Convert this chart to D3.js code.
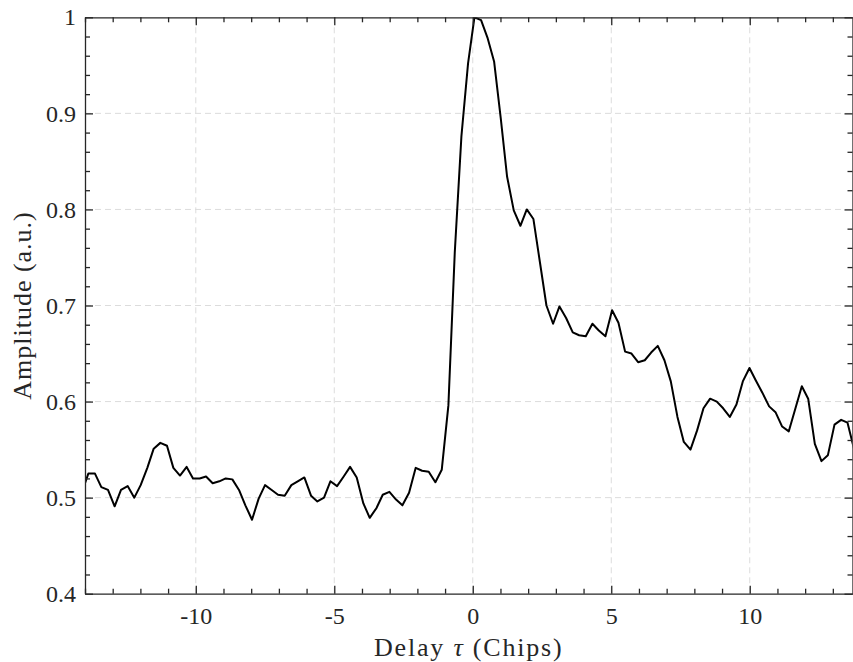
<!DOCTYPE html>
<html>
<head>
<meta charset="utf-8">
<script src="https://cdn.jsdelivr.net/npm/d3@7"></script>
<style>
    body { margin: 0; background: #fff; }
    .tick text { font-family: "Liberation Serif", serif; font-size: 24px; fill: #262626; }
    .label { font-family: "Liberation Serif", serif; font-size: 26px; fill: #262626; letter-spacing: 1px; }
</style>
</head>
<body>
<div id="chart"></div>
<script>
// delay (chips) and normalised amplitude
const delays = [
    -14.12, -13.88, -13.64, -13.41, -13.17, -12.93, -12.70, -12.46, -12.22, -11.99,
    -11.75, -11.52, -11.28, -11.04, -10.81, -10.57, -10.33, -10.10, -9.86, -9.63,
    -9.39, -9.15, -8.92, -8.68, -8.44, -8.21, -7.97, -7.73, -7.50, -7.26,
    -7.03, -6.79, -6.55, -6.32, -6.08, -5.84, -5.61, -5.37, -5.14, -4.90,
    -4.66, -4.43, -4.19, -3.95, -3.72, -3.48, -3.25, -3.01, -2.77, -2.54,
    -2.30, -2.06, -1.83, -1.59, -1.35, -1.12, -0.88, -0.65, -0.41, -0.17,
    0.06, 0.30, 0.54, 0.77, 1.01, 1.24, 1.48, 1.72, 1.95, 2.19,
    2.43, 2.66, 2.90, 3.13, 3.37, 3.61, 3.84, 4.08, 4.32, 4.55,
    4.79, 5.03, 5.26, 5.50, 5.73, 5.97, 6.21, 6.44, 6.68, 6.92,
    7.15, 7.39, 7.62, 7.86, 8.10, 8.33, 8.57, 8.81, 9.04, 9.28,
    9.52, 9.75, 9.99, 10.22, 10.46, 10.70, 10.93, 11.17, 11.41, 11.64,
    11.88, 12.11, 12.35, 12.59, 12.82, 13.06, 13.30, 13.53, 13.77
];
const amplitudes = [
    0.505, 0.525, 0.525, 0.511, 0.508, 0.491, 0.508, 0.512, 0.500, 0.513,
    0.531, 0.551, 0.557, 0.554, 0.531, 0.523, 0.532, 0.520, 0.520, 0.522,
    0.515, 0.517, 0.520, 0.519, 0.508, 0.492, 0.477, 0.499, 0.513, 0.508,
    0.503, 0.502, 0.513, 0.517, 0.521, 0.502, 0.496, 0.500, 0.517, 0.512,
    0.522, 0.532, 0.521, 0.494, 0.479, 0.489, 0.503, 0.506, 0.498, 0.492,
    0.505, 0.531, 0.528, 0.527, 0.516, 0.529, 0.596, 0.755, 0.876, 0.952,
    1.000, 0.997, 0.978, 0.954, 0.895, 0.834, 0.799, 0.783, 0.800, 0.790,
    0.744, 0.700, 0.681, 0.699, 0.687, 0.672, 0.669, 0.668, 0.681, 0.674,
    0.668, 0.695, 0.682, 0.652, 0.650, 0.641, 0.643, 0.651, 0.658, 0.643,
    0.621, 0.584, 0.558, 0.550, 0.570, 0.593, 0.603, 0.600, 0.593, 0.584,
    0.597, 0.621, 0.635, 0.622, 0.609, 0.595, 0.589, 0.574, 0.569, 0.592,
    0.616, 0.603, 0.556, 0.538, 0.544, 0.576, 0.581, 0.578, 0.550
];
const xTicks = [-10, -5, 0, 5, 10];
const xTickLabels = ["-10", "-5", "0", "5", "10"];
const yTicks = [0.4, 0.5, 0.6, 0.7, 0.8, 0.9, 1];
const yTickLabels = ["0.4", "0.5", "0.6", "0.7", "0.8", "0.9", "1"];

const margin = {top: 17.3, right: 0.5, bottom: 68.3, left: 85},
    width = 853 - margin.left - margin.right,
    height = 662 - margin.top - margin.bottom;

const axisColor = "#262626";

const svg = d3.select("#chart")
    .append("svg")
    .attr("width", 853)
    .attr("height", 662)
    .append("g")
    .attr("transform", `translate(${margin.left},${margin.top})`);

const xScale = d3.scaleLinear().domain([-14, 13.71]).range([0, width]);
const yScale = d3.scaleLinear().domain([0.4, 1]).range([height, 0]);

// grid
svg.append("g")
    .selectAll("line")
    .data(xTicks)
    .join("line")
    .attr("x1", d => xScale(d)).attr("x2", d => xScale(d))
    .attr("y1", 0).attr("y2", height)
    .attr("stroke", "#dcdcdc")
    .attr("stroke-width", 1)
    .attr("stroke-dasharray", "6,4");

svg.append("g")
    .selectAll("line")
    .data(yTicks.slice(1, -1))
    .join("line")
    .attr("x1", 0).attr("x2", width)
    .attr("y1", d => yScale(d)).attr("y2", d => yScale(d))
    .attr("stroke", "#dcdcdc")
    .attr("stroke-width", 1)
    .attr("stroke-dasharray", "6,4");

// curve
svg.append("clipPath")
    .attr("id", "clip")
    .append("rect")
    .attr("width", width)
    .attr("height", height);

const line = d3.line()
    .x((d, i) => xScale(delays[i]))
    .y(d => yScale(d));

svg.append("path")
    .datum(amplitudes)
    .attr("clip-path", "url(#clip)")
    .attr("fill", "none")
    .attr("stroke", "#000")
    .attr("stroke-width", 2)
    .attr("stroke-linejoin", "round")
    .attr("d", line);

// axes, ticks pointing inwards
const xMinor = d3.range(-14, 14, 1).filter(d => !xTicks.includes(d));
const yMinor = d3.range(0.42, 1, 0.02).filter(d => Math.abs(d * 10 - Math.round(d * 10)) > 1e-6);

function styleAxis(g) {
    g.selectAll("path, line").attr("stroke", axisColor).attr("stroke-width", 1.3);
}

svg.append("g")
    .attr("transform", `translate(0,${height})`)
    .call(d3.axisBottom(xScale).tickValues(xTicks).tickFormat((d, i) => xTickLabels[i])
        .tickSize(-8).tickSizeOuter(0).tickPadding(13))
    .call(styleAxis);
svg.append("g")
    .attr("transform", `translate(0,${height})`)
    .call(d3.axisBottom(xScale).tickValues(xMinor).tickFormat("").tickSize(-5).tickSizeOuter(0))
    .call(styleAxis)
    .select(".domain").remove();

svg.append("g")
    .call(d3.axisTop(xScale).tickValues(xTicks).tickFormat("").tickSize(-8).tickSizeOuter(0))
    .call(styleAxis);
svg.append("g")
    .call(d3.axisTop(xScale).tickValues(xMinor).tickFormat("").tickSize(-5).tickSizeOuter(0))
    .call(styleAxis)
    .select(".domain").remove();

svg.append("g")
    .call(d3.axisLeft(yScale).tickValues(yTicks).tickFormat((d, i) => yTickLabels[i])
        .tickSize(-8).tickSizeOuter(0).tickPadding(9))
    .call(styleAxis);
svg.append("g")
    .call(d3.axisLeft(yScale).tickValues(yMinor).tickFormat("").tickSize(-5).tickSizeOuter(0))
    .call(styleAxis)
    .select(".domain").remove();

svg.append("g")
    .attr("transform", `translate(${width},0)`)
    .call(d3.axisRight(yScale).tickValues(yTicks).tickFormat("").tickSize(-8).tickSizeOuter(0))
    .call(styleAxis);
svg.append("g")
    .attr("transform", `translate(${width},0)`)
    .call(d3.axisRight(yScale).tickValues(yMinor).tickFormat("").tickSize(-5).tickSizeOuter(0))
    .call(styleAxis)
    .select(".domain").remove();

svg.selectAll(".tick text").attr("font-family", null).attr("font-size", null);

// axis titles
const xTitle = svg.append("text")
    .attr("class", "label")
    .attr("x", width / 2)
    .attr("y", height + 62)
    .attr("text-anchor", "middle")
    .style("letter-spacing", "1.8px");
xTitle.append("tspan").text("Delay ");
xTitle.append("tspan").attr("font-style", "italic").text("τ");
xTitle.append("tspan").text(" (Chips)");

svg.append("text")
    .attr("class", "label")
    .attr("transform", "rotate(-90)")
    .attr("x", -height / 2)
    .attr("y", -54)
    .attr("text-anchor", "middle")
    .text("Amplitude (a.u.)");
</script>
</body>
</html>
